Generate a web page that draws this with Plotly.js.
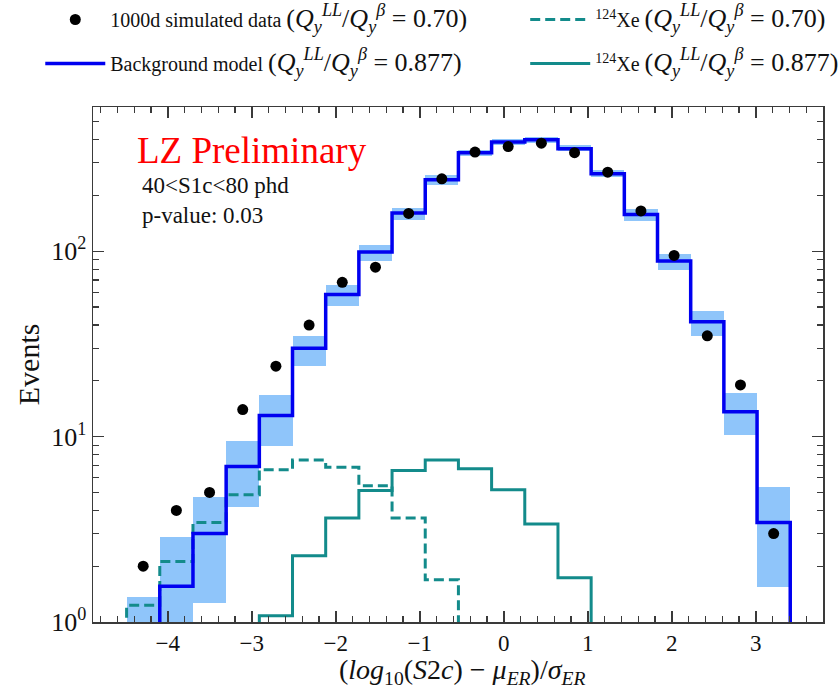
<!DOCTYPE html>
<html>
<head>
<meta charset="utf-8">
<script src="https://cdn.plot.ly/plotly-3.0.1.min.js"></script>
<style>
  html, body { margin: 0; padding: 0; background: #ffffff; }
  #chart { width: 839px; height: 692px; }
</style>
</head>
<body>
<div id="chart"></div>
<script>
// ---- data ----
const binCenters = [-4.2925, -3.8975, -3.5025, -3.1075, -2.7125, -2.3175, -1.9225, -1.5275, -1.1325, -0.7375,
                    -0.3425, 0.0525, 0.4475, 0.8425, 1.2375, 1.6325, 2.0275, 2.4225, 2.8175, 3.2125];
const binWidth = 0.395;

const simData = [2.0, 4.0, 5.0, 14.0, 24.0, 40, 68, 82, 160, 246, 343, 367, 383, 340, 267, 165, 95, 35, 19, 3.0];
const bkgModel = [null, 1.56, 3.0, 6.9, 13.0, 30, 58.5, 99, 161, 243, 340, 388, 399, 357, 262, 158, 88.7, 41.6, 13.6, 3.44];
const bandLow  = [null, null, 1.26, 4.17, 8.95, 24.1, 50.6, 88.7, 148, 227, 326, 372, 385, 346, 253, 146, 79, 35, 10.2, 1.55];
const bandHigh = [1.36, 2.87, 4.75, 9.5, 16.8, 34.8, 65.6, 108.7, 172, 258, 353, 405, 413, 375, 276, 170, 97, 47.5, 17.1, 5.34];
const xe124_070  = [1.23, 2.12, 3.44, 4.86, 6.62, 7.49, 6.84, 5.43, 3.64, 1.69, null, null, null, null, null, null, null, null, null, null];
const xe124_0877 = [null, null, null, null, 1.08, 2.28, 3.64, 5.12, 6.56, 7.49, 6.7, 5.17, 3.38, 1.73, null, null, null, null, null, null];

const yTickVals = [1, 10, 100];
const yTickText = ['10<sup>0</sup>', '10<sup>1</sup>', '10<sup>2</sup>'];
const yMinorVals = [2,3,4,5,6,7,8,9,20,30,40,50,60,70,80,90,200,300,400,500];

// ---- helpers ----
const FLOOR = 0.01; // unreadable (below-axis) bins are drawn off-scale
function stepXY(vals) {
  const edges = binCenters.map(c => c - binWidth / 2);
  const last = binCenters[binCenters.length - 1] + binWidth / 2;
  const x = [edges[0]], y = [FLOOR];
  vals.forEach((v, i) => { x.push(edges[i]); y.push(v == null ? FLOOR : v); });
  x.push(last); y.push(FLOOR);
  return {x, y};
}

const BLUE = '#0000f0';
const TEAL = '#138b8b';
const BAND = '#8fc5fa';
const FONT = '"Liberation Serif", "Times New Roman", serif';
const qlabel = (v) => '<span style="font-size:26px">(<i>Q</i><sub><i>y</i></sub><sup><i>LL</i></sup>/<i>Q</i><sub><i>y</i></sub><sup><i>β</i></sup> = ' + v + ')</span>';

const bandBase = bandLow.map(v => v == null ? FLOOR : v);
const bandSize = bandHigh.map((h, i) => h - bandBase[i]);

const sBkg = stepXY(bkgModel);
const s070 = stepXY(xe124_070);
const s0877 = stepXY(xe124_0877);

const traces = [
  { type: 'bar', x: binCenters, y: bandSize, base: bandBase, width: binWidth,
    marker: { color: BAND, line: { width: 0 } }, showlegend: false, hoverinfo: 'skip' },
  { type: 'scatter', mode: 'lines', x: s070.x, y: s070.y, line: { shape: 'hv', color: TEAL, width: 3, dash: '10px,5px' },
    name: '<sup>124</sup>Xe ' + qlabel('0.70'), legend: 'legend2', legendrank: 1, legendgroup: 'a' },
  { type: 'scatter', mode: 'lines', x: s0877.x, y: s0877.y, line: { shape: 'hv', color: TEAL, width: 3 },
    name: '<sup>124</sup>Xe ' + qlabel('0.877'), legend: 'legend2', legendrank: 2, legendgroup: 'b' },
  { type: 'scatter', mode: 'lines', x: sBkg.x, y: sBkg.y, line: { shape: 'hv', color: BLUE, width: 3.5 },
    name: 'Background model ' + qlabel('0.877'), legend: 'legend', legendrank: 2, legendgroup: 'c' },
  { type: 'scatter', mode: 'markers', x: binCenters, y: simData, marker: { color: '#000000', size: 11 },
    name: '1000d simulated data ' + qlabel('0.70'), legend: 'legend', legendrank: 1, legendgroup: 'd' }
];

const axisCommon = {
  showline: true, linecolor: '#3a3a3a', linewidth: 1.5, mirror: 'ticks',
  ticks: 'inside', ticklen: 11, tickwidth: 1.5, tickcolor: '#3a3a3a',
  showgrid: false, zeroline: false,
};

const legendCommon = {
  xref: 'container', yref: 'container', xanchor: 'left', yanchor: 'top',
  orientation: 'v', font: { family: FONT, size: 20, color: '#111111' },
  bgcolor: 'rgba(0,0,0,0)', itemwidth: 60, tracegroupgap: 15, traceorder: 'grouped'
};

const layout = {
  width: 839, height: 692,
  margin: { l: 93, r: 16, t: 107, b: 70, autoexpand: false },
  paper_bgcolor: '#ffffff', plot_bgcolor: '#ffffff',
  font: { family: FONT, color: '#111111', size: 20 },
  bargap: 0,
  xaxis: Object.assign({}, axisCommon, {
    range: [-4.89, 3.8], tick0: 0, dtick: 1, tickangle: 0,
    tickfont: { family: FONT, size: 23, color: '#111111' },
    minor: { dtick: 0.2, ticks: 'inside', ticklen: 6, tickwidth: 1.2, tickcolor: '#3a3a3a' }
  }),
  yaxis: Object.assign({}, axisCommon, {
    type: 'log', range: [0, Math.log10(600)],
    tickmode: 'array', tickvals: yTickVals, ticktext: yTickText,
    tickfont: { family: FONT, size: 26, color: '#111111' },
    minor: { tickmode: 'array', tickvals: yMinorVals, ticks: 'inside', ticklen: 6, tickwidth: 1.2, tickcolor: '#3a3a3a' }
  }),
  legend: Object.assign({}, legendCommon, { x: 0.048, y: 1.0 }),
  legend2: Object.assign({}, legendCommon, { x: 0.626, y: 1.0 }),
  annotations: [
    { xref: 'paper', yref: 'paper', x: 0.058, y: 0.916, xanchor: 'left', yanchor: 'middle', showarrow: false,
      text: 'LZ Preliminary', font: { family: FONT, size: 37, color: '#ff0000' } },
    { xref: 'paper', yref: 'paper', x: 0.064, y: 0.8175, xanchor: 'left', yanchor: 'middle', showarrow: false, align: 'left',
      text: '40&lt;S1c&lt;80 phd<br>p-value: 0.03', font: { family: FONT, size: 23, color: '#111111' } },
    { xref: 'paper', yref: 'paper', x: -0.088, y: 0.5, xanchor: 'center', yanchor: 'middle', showarrow: false, textangle: -90,
      text: 'Events', font: { family: FONT, size: 30, color: '#111111' } },
    { xref: 'paper', yref: 'paper', x: 0.505, y: -0.134, xanchor: 'center', yanchor: 'bottom', showarrow: false,
      text: '(<i>log</i><sub>10</sub>(<i>S</i>2<i>c</i>) − <i>μ</i><sub><i>ER</i></sub>)/<i>σ</i><sub><i>ER</i></sub>',
      font: { family: FONT, size: 28, color: '#111111' } }
  ]
};

Plotly.newPlot('chart', traces, layout, { displayModeBar: false, staticPlot: true });
</script>
</body>
</html>
